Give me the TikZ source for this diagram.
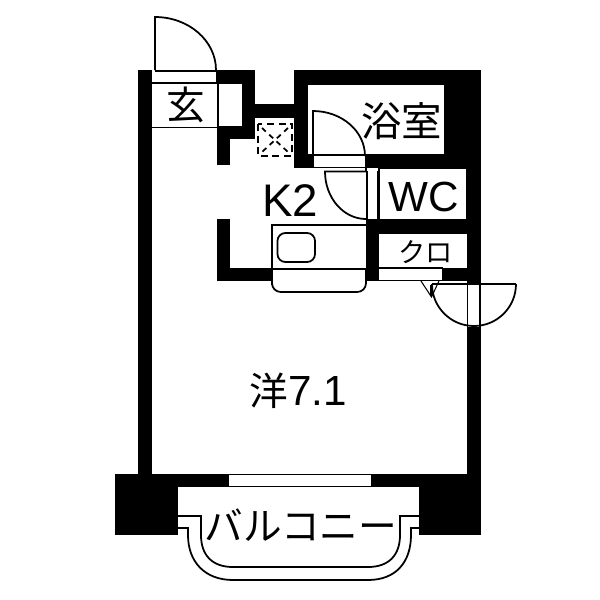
\documentclass[tikz,border=0pt]{standalone}
\usepackage{fontspec}
\setmainfont{Liberation Sans}
\newfontfamily\cjk{Noto Sans CJK JP}
\tikzset{
    wall/.style={fill=black, draw=none},
    thinline/.style={draw=black, line width=0.6pt},
    doorline/.style={draw=black, line width=1pt},
    roomlabel/.style={inner sep=0pt, font=\fontsize{24}{24}\selectfont},
}

\begin{document}
\begin{tikzpicture}[x=0.02cm, y=-0.02cm]
\useasboundingbox (0,0) rectangle (600,600);

% walls
\fill[wall] (138,70) rectangle (152,475);
\fill[wall] (467,70) rectangle (481,283);
\fill[wall] (467,327) rectangle (481,475);
\fill[wall] (216,70) rectangle (255,84);
\fill[wall] (242,70) rectangle (255,139);
\fill[wall] (217,126) rectangle (255,139);
\fill[wall] (217,126) rectangle (230,165);
\fill[wall] (255,104) rectangle (294,118);
\fill[wall] (294,70) rectangle (307,168);
\fill[wall] (294,70) rectangle (481,84);
\fill[wall] (445,70) rectangle (481,168);
\fill[wall] (294,155) rectangle (314,168);
\fill[wall] (365,155) rectangle (481,168);
\fill[wall] (365,155) rectangle (367,172);
\fill[wall] (366,219) rectangle (481,234);
\fill[wall] (366,219) rectangle (379,281);
\fill[wall] (443,268) rectangle (481,281);
\fill[wall] (217,219) rectangle (230,281);
\fill[wall] (217,268) rectangle (272,281);
\fill[wall] (115,474) rectangle (178,535);
\fill[wall] (419,474) rectangle (481,535);
\fill[wall] (178,474) rectangle (419,487);
\fill[white] (229,475) rectangle (371,486);
\draw[thinline] (229,474.5) -- (371,474.5);

% entrance
\draw[doorline] (155,70) -- (155,17) arc[start angle=-90, end angle=0, x radius=61, y radius=53];
\draw[thinline] (155,71) -- (216,71);
\draw[doorline] (152,83) -- (217,83);
\draw[thinline] (218,84) -- (218,126);
\draw[thinline] (152,127.5) -- (217,127.5);
\node[roomlabel, font=\cjk\fontsize{22}{22}\selectfont] (genkan) at (186,105) {玄};

% pipe space
\draw[thinline, line width=1pt, dash pattern=on 4pt off 2.6pt] (258,124) rectangle (292,156);
\draw[thinline, line width=1pt, dash pattern=on 3pt off 2.6pt] (262,128) -- (288,152);
\draw[thinline, line width=1pt, dash pattern=on 3pt off 2.6pt] (288,128) -- (262,152);

% bath
\draw[thinline] (307,84) rectangle (445,155);
\draw[doorline] (313,156) -- (313,111) arc[start angle=-90, end angle=0, x radius=52, y radius=45];
\draw[doorline] (313,167.5) -- (366,167.5);
\node[roomlabel, font=\cjk\fontsize{23}{23}\selectfont] (bath) at (402,121) {浴室};

% toilet
\draw[thinline] (379,168) rectangle (467,220);
\draw[doorline] (367,171.5) -- (325,171.5) arc[start angle=180, end angle=90, x radius=41, y radius=47.5];
\draw[thinline] (367,171) -- (367,219);
\draw[doorline] (378,171) -- (378,219);
\node[roomlabel] (wc) at (424,197) {WC};

% closet
\draw[doorline] (379,268) -- (443,268);
\draw[thinline] (379,280.5) -- (443,280.5);
\draw[thinline] (443,268) -- (443,281);
\node[roomlabel, font=\cjk\fontsize{15.5}{15.5}\selectfont] (closet) at (426,252) {クロ};

% kitchen
\node[roomlabel, font=\fontsize{26}{26}\selectfont] (kitchen) at (290,201) {K2};
\draw[doorline] (272,268) -- (272,225) -- (366,225);
\draw[thinline] (272,269) -- (366,269);
\draw[doorline] (272,268) -- (272,285) [rounded corners=5pt] -- (272,292) -- (366,292) [sharp corners] -- (366,268);
\draw[doorline, rounded corners=4.5pt] (277.5,233) rectangle (315,262);

% double door
\draw[doorline] (432,284) -- (516,284);
\draw[doorline] (432,284) arc[start angle=180, end angle=0, radius=42];
\draw[thinline] (467.5,284) -- (467.5,327);
\draw[thinline] (480,284) -- (480,327);
\draw[thinline] (421,281) -- (431.5,297) -- (439,281);
\draw[thinline] (431,285) -- (431,296);

% room
\node[roomlabel] (room) at (298,391) {{\cjk\fontsize{22}{22}\selectfont 洋}7.1};

% balcony
\draw[doorline] (178,516) -- (201,516) -- (201,535) .. controls (201,555) and (212,567) .. (233,567) -- (368,567) .. controls (389,567) and (400,555) .. (400,535) -- (400,516) -- (419,516);
\draw[doorline] (178,528) -- (188,528) -- (188,535) .. controls (188,562) and (205,580) .. (233,580) -- (368,580) .. controls (396,580) and (411,562) .. (411,535) -- (411,528) -- (419,528);
\node[roomlabel, font=\cjk\fontsize{22}{22}\selectfont] (balcony) at (301,525) {バルコニー};
\end{tikzpicture}
\end{document}
